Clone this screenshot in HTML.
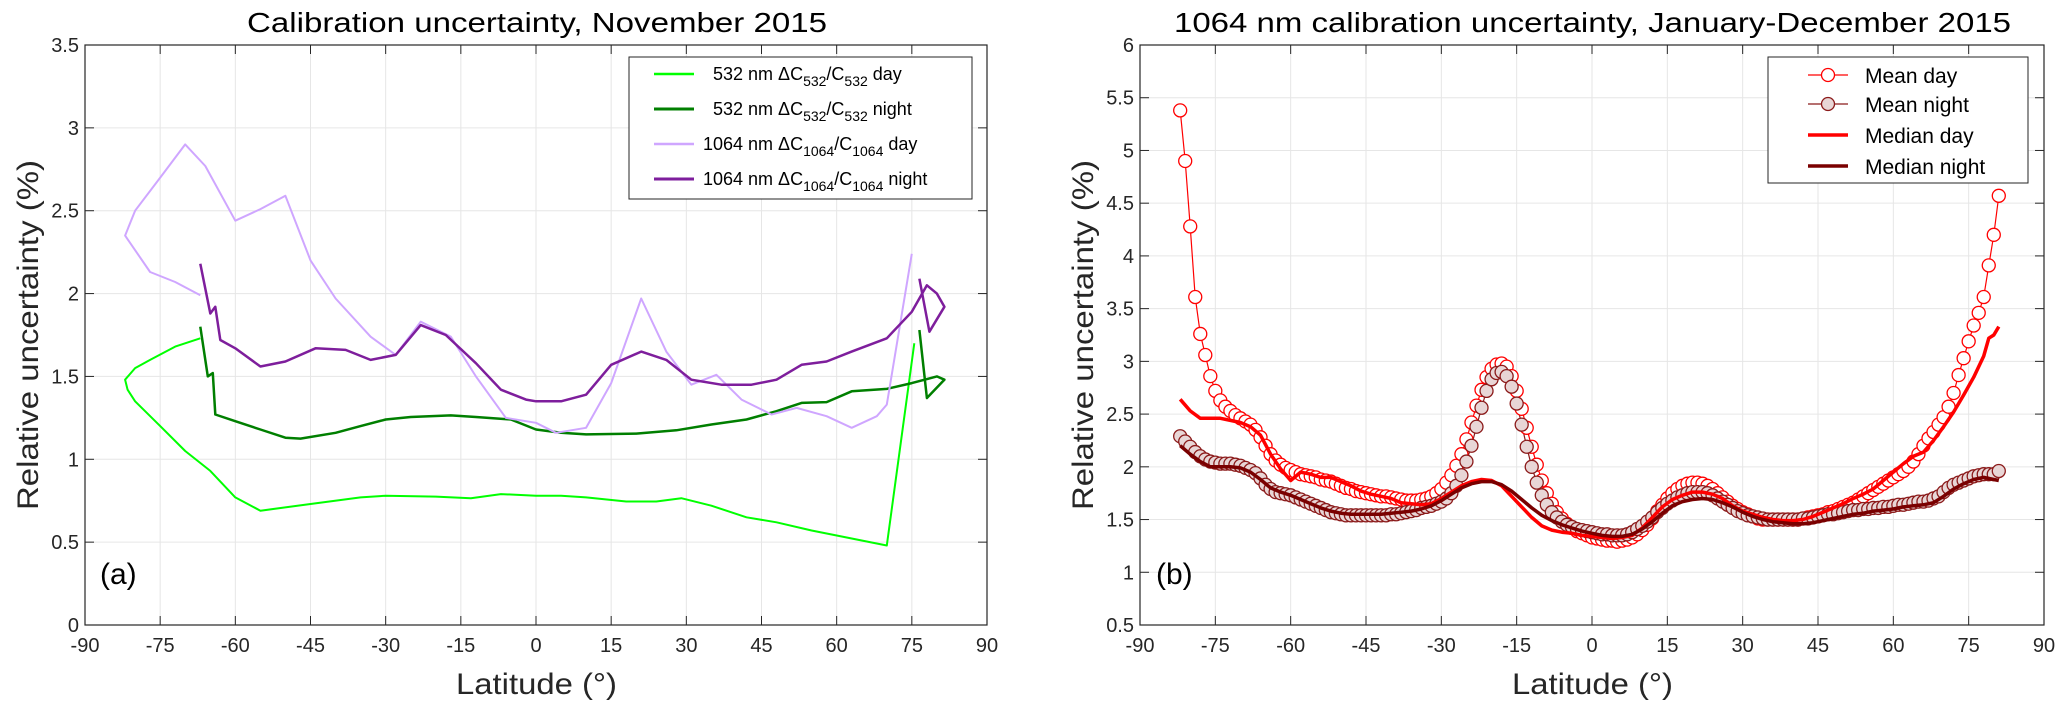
<!DOCTYPE html>
<html><head><meta charset="utf-8">
<style>
html,body{margin:0;padding:0;background:#fff;}
svg{display:block;font-family:"Liberation Sans",sans-serif;}
</style></head>
<body>
<svg id="chart" width="2067" height="712" viewBox="0 0 2067 712" xmlns="http://www.w3.org/2000/svg"></svg>
<script>
// ---------- Panel (a) data ----------
const aXTicks = [-90,-75,-60,-45,-30,-15,0,15,30,45,60,75,90];
const aYTicks = [0,0.5,1,1.5,2,2.5,3,3.5];
const g532DayLat = [-67,-72,-77,-80,-82,-81.5,-80,-75,-70,-65,-60,-55,-45,-35,-30,-20,-13,-7,0,5,10,18,24,29,35,42,48,55,60,65,70,75.5];
const g532DayVal = [1.73,1.68,1.6,1.55,1.48,1.42,1.35,1.2,1.05,0.93,0.77,0.69,0.73,0.77,0.78,0.775,0.765,0.79,0.78,0.78,0.77,0.745,0.745,0.765,0.72,0.65,0.62,0.57,0.54,0.51,0.48,1.7];
const g532NightLat = [-67,-65.5,-64.5,-64,-60,-55,-50,-47,-40,-35,-30,-25,-17,-12,-5,0,5,10,20,28,35,42,48,53,58,63,70,75,80,81.5,78,76.5];
const g532NightVal = [1.8,1.5,1.52,1.27,1.23,1.18,1.13,1.125,1.16,1.2,1.24,1.255,1.265,1.255,1.24,1.18,1.16,1.15,1.155,1.175,1.21,1.24,1.29,1.34,1.345,1.41,1.425,1.46,1.5,1.48,1.37,1.78];
const p1064DayLat = [-67,-72,-77,-82,-80,-75,-70,-66,-60,-55,-50,-45,-40,-33,-28,-23,-17,-12,-6,0,4,10,15,21,26,31,36,41,47,52,58,63,68,70,75];
const p1064DayVal = [1.99,2.07,2.13,2.35,2.5,2.7,2.9,2.77,2.44,2.51,2.59,2.2,1.97,1.74,1.63,1.83,1.74,1.5,1.25,1.22,1.16,1.19,1.46,1.97,1.65,1.45,1.51,1.36,1.27,1.31,1.26,1.19,1.26,1.33,2.24];
const p1064NightLat = [-67,-65,-64,-63,-60,-55,-50,-44,-38,-33,-28,-23,-18,-12,-7,-2,0,5,10,15,21,26,31,37,43,48,53,58,63,70,75,78,80,81.5,78.5,76.5];
const p1064NightVal = [2.18,1.88,1.92,1.72,1.67,1.56,1.59,1.67,1.66,1.6,1.63,1.81,1.75,1.58,1.42,1.36,1.35,1.35,1.39,1.57,1.65,1.6,1.48,1.45,1.45,1.48,1.57,1.59,1.65,1.73,1.89,2.05,2.0,1.92,1.77,2.09];

// ---------- Panel (b) data ----------
const bXTicks = [-90,-75,-60,-45,-30,-15,0,15,30,45,60,75,90];
const bYTicks = [0.5,1,1.5,2,2.5,3,3.5,4,4.5,5,5.5,6];
const meanLatStart = -82;
const meanDay = [5.38,4.9,4.28,3.61,3.26,3.06,2.86,2.72,2.63,2.57,2.53,2.49,2.46,2.43,2.4,2.35,2.28,2.2,2.12,2.06,2.02,1.99,1.97,1.95,1.93,1.92,1.91,1.9,1.88,1.87,1.86,1.84,1.82,1.8,1.79,1.77,1.76,1.75,1.74,1.73,1.72,1.72,1.71,1.7,1.69,1.68,1.68,1.68,
1.69,1.7,1.72,1.75,1.79,1.85,1.92,2.01,2.12,2.26,2.42,2.58,2.73,2.85,2.93,2.97,2.98,2.95,2.86,2.72,2.55,2.37,2.19,2.02,1.87,1.75,1.65,1.57,1.51,1.46,1.42,1.39,1.37,1.35,1.33,
1.32,1.31,1.3,1.3,1.29,1.3,1.31,1.33,1.36,1.4,1.45,1.51,1.58,1.64,1.7,1.75,1.79,1.82,1.84,1.85,1.85,1.84,1.82,1.79,1.75,1.71,1.67,1.63,1.6,1.57,1.55,1.53,1.51,1.5,
1.5,1.5,1.5,1.5,1.5,1.5,1.5,1.51,1.52,1.53,1.54,1.55,1.57,1.58,1.6,1.62,1.64,1.66,1.69,1.72,1.75,1.78,1.81,1.84,1.87,1.9,1.93,1.96,2.0,2.05,2.12,2.2,2.27,2.33,2.4,2.47,2.57,2.7,2.87,3.03,3.19,3.34,3.46,3.61,3.91,4.2,4.57];
const meanNight = [2.29,2.24,2.19,2.14,2.1,2.07,2.05,2.04,2.03,2.03,2.03,2.02,2.01,1.99,1.97,1.94,1.89,1.83,1.79,1.76,1.75,1.74,1.73,1.71,1.69,1.67,1.65,1.63,1.61,1.59,1.57,1.56,1.55,1.54,1.54,1.54,1.54,1.54,1.54,1.54,1.54,1.54,1.55,1.55,1.56,1.57,1.58,1.59,
1.61,1.62,1.63,1.65,1.67,1.7,1.75,1.82,1.92,2.05,2.2,2.38,2.56,2.72,2.83,2.89,2.9,2.86,2.76,2.6,2.4,2.19,2.0,1.85,1.73,1.64,1.57,1.52,1.48,1.45,1.43,1.41,1.4,1.39,1.38,
1.37,1.36,1.36,1.35,1.35,1.35,1.36,1.38,1.41,1.44,1.48,1.52,1.57,1.61,1.65,1.68,1.71,1.73,1.75,1.76,1.76,1.76,1.75,1.73,1.7,1.67,1.64,1.61,1.58,1.56,1.54,1.53,1.52,1.51,
1.5,1.5,1.5,1.5,1.5,1.5,1.5,1.51,1.51,1.52,1.53,1.54,1.55,1.55,1.56,1.57,1.58,1.59,1.59,1.6,1.6,1.61,1.61,1.62,1.62,1.63,1.64,1.64,1.65,1.66,1.67,1.67,1.68,1.7,1.72,1.76,1.8,1.83,1.85,1.87,1.89,1.91,1.92,1.93,1.93,1.93,1.96];
const medDayLat = [-82,-80,-78,-76,-74,-72,-70,-68,-66,-64,-62,-60,-58,-56,-54,-52,-50,-48,-46,-44,-42,-40,-38,-36,-34,-32,-30,-28,-26,-24,-22,-20,-18,-16,-14,-12,-10,-8,-6,-4,-2,0,2,4,6,8,10,12,14,16,18,20,22,24,26,28,30,32,34,36,38,40,42,44,46,48,50,52,54,56,58,60,62,64,66,68,70,72,74,76,78,79,80,81];
const medDay = [2.64,2.53,2.46,2.46,2.46,2.44,2.42,2.38,2.3,2.12,1.98,1.87,1.95,1.93,1.9,1.9,1.86,1.82,1.77,1.74,1.72,1.7,1.66,1.65,1.64,1.65,1.7,1.76,1.82,1.86,1.88,1.87,1.82,1.72,1.62,1.52,1.44,1.4,1.38,1.37,1.35,1.34,1.33,1.32,1.33,1.35,1.42,1.52,1.62,1.69,1.73,1.76,1.76,1.74,1.7,1.63,1.58,1.55,1.52,1.5,1.49,1.49,1.5,1.53,1.57,1.61,1.65,1.7,1.74,1.79,1.87,1.95,2.03,2.1,2.14,2.25,2.38,2.52,2.68,2.85,3.05,3.22,3.25,3.33];
const medNightLat = [-82,-80,-78,-76,-74,-72,-70,-68,-66,-64,-62,-60,-58,-56,-54,-52,-50,-48,-46,-44,-42,-40,-38,-36,-34,-32,-30,-28,-26,-24,-22,-20,-18,-16,-14,-12,-10,-8,-6,-4,-2,0,2,4,6,8,10,12,14,16,18,20,22,24,26,28,30,32,34,36,38,40,42,44,46,48,50,52,54,56,58,60,62,64,66,68,70,72,74,76,78,80,81];
const medNight = [2.2,2.12,2.05,2.0,2.0,2.0,1.99,1.95,1.88,1.8,1.76,1.73,1.69,1.65,1.61,1.58,1.56,1.55,1.55,1.55,1.55,1.56,1.57,1.58,1.6,1.63,1.68,1.74,1.8,1.84,1.86,1.86,1.83,1.77,1.69,1.61,1.54,1.49,1.45,1.42,1.39,1.37,1.35,1.34,1.34,1.36,1.41,1.48,1.56,1.63,1.67,1.69,1.7,1.69,1.66,1.62,1.57,1.53,1.5,1.48,1.47,1.46,1.46,1.47,1.49,1.51,1.53,1.55,1.56,1.58,1.59,1.6,1.62,1.63,1.64,1.66,1.72,1.79,1.84,1.88,1.9,1.88,1.87];

const NS = "http://www.w3.org/2000/svg";
const svg = document.getElementById('chart');
function mk(tag, attrs, parent){
  const e = document.createElementNS(NS, tag);
  for (const k in attrs) e.setAttribute(k, attrs[k]);
  (parent||svg).appendChild(e);
  return e;
}
function makeScale(d0,d1,r0,r1){return v => r0 + (v-d0)/(d1-d0)*(r1-r0);}

function drawAxes(P, name){
  const g = mk('g', {});
  
  
  P.xt.forEach(t=>{
    const x = P.x(t);
    mk('line',{x1:x,x2:x,y1:P.top,y2:P.bot,stroke:'#e6e6e6','stroke-width':1},g);
  });
  P.yt.forEach(t=>{
    const y = P.y(t);
    mk('line',{x1:P.left,x2:P.right,y1:y,y2:y,stroke:'#e6e6e6','stroke-width':1},g);
  });
  P.xt.forEach(t=>{
    const x = P.x(t);
    mk('line',{x1:x,x2:x,y1:P.bot,y2:P.bot-9,stroke:'#262626','stroke-width':1},g);
    mk('line',{x1:x,x2:x,y1:P.top,y2:P.top+9,stroke:'#262626','stroke-width':1},g);
    const tx = mk('text',{x:x,y:P.bot+27,'text-anchor':'middle','font-size':20,fill:'#262626'},g);
    tx.textContent = t;
    
    
  });
  P.yt.forEach(t=>{
    const y = P.y(t);
    mk('line',{x1:P.left,x2:P.left+9,y1:y,y2:y,stroke:'#262626','stroke-width':1},g);
    mk('line',{x1:P.right,x2:P.right-9,y1:y,y2:y,stroke:'#262626','stroke-width':1},g);
    const tx = mk('text',{x:P.left-6,y:y+7,'text-anchor':'end','font-size':20,fill:'#262626'},g);
    tx.textContent = t;
    
    
  });
}
function drawBox(P){
  mk('rect',{x:P.left,y:P.top,width:P.right-P.left,height:P.bot-P.top,fill:'none',stroke:'#262626','stroke-width':1.2});
}
function pathFrom(P, lats, vals){
  return lats.map((la,i)=>(i?'L':'M')+P.x(la).toFixed(1)+' '+P.y(vals[i]).toFixed(1)).join(' ');
}

// ---------- Panel (a) ----------
const A = {left:85,right:987,top:45,bot:625,xt:aXTicks,yt:aYTicks};
A.x = makeScale(-90,90,A.left,A.right);
A.y = makeScale(0,3.5,A.bot,A.top);
drawAxes(A,'panel-a');
const aSeries = [
  [g532DayLat,g532DayVal,'#00ff00',2,'line-532-day'],
  [g532NightLat,g532NightVal,'#007f00',2.5,'line-532-night'],
  [p1064DayLat,p1064DayVal,'#cfa6ff',2,'line-1064-day'],
  [p1064NightLat,p1064NightVal,'#7e1e9c',2.5,'line-1064-night']
];
aSeries.forEach(s=>{
  const p = mk('path',{d:pathFrom(A,s[0],s[1]),fill:'none',stroke:s[2],'stroke-width':s[3],'stroke-linejoin':'round'});
  
  
});
drawBox(A);

// ---------- Panel (b) ----------
const B = {left:1140,right:2044,top:45,bot:625,xt:bXTicks,yt:bYTicks};
B.x = makeScale(-90,90,B.left,B.right);
B.y = makeScale(0.5,6,B.bot,B.top);
drawAxes(B,'panel-b');
const meanLats = meanDay.map((_,i)=>meanLatStart+i);
const mdLine = mk('path',{d:pathFrom(B,meanLats,meanDay),fill:'none',stroke:'#ff0000','stroke-width':1.2});


const mnLine = mk('path',{d:pathFrom(B,meanLats,meanNight),fill:'none',stroke:'#8b1a1a','stroke-width':1.2});


meanDay.forEach((v,i)=>{
  const c = mk('circle',{cx:B.x(meanLats[i]),cy:B.y(v),r:6.5,fill:'#ffffff',stroke:'#ff0000','stroke-width':1.3});
  
  
});
meanNight.forEach((v,i)=>{
  const c = mk('circle',{cx:B.x(meanLats[i]),cy:B.y(v),r:6.5,fill:'#e8d6d6',stroke:'#8b1a1a','stroke-width':1.3});
  
  
});
const medD = mk('path',{d:pathFrom(B,medDayLat,medDay),fill:'none',stroke:'#ff0000','stroke-width':3.5,'stroke-linejoin':'round'});


const medN = mk('path',{d:pathFrom(B,medNightLat,medNight),fill:'none',stroke:'#7a0000','stroke-width':3.5,'stroke-linejoin':'round'});


drawBox(B);
</script>

<svg width="2067" height="712" viewBox="0 0 2067 712" xmlns="http://www.w3.org/2000/svg" style="position:absolute;left:0;top:0;font-family:'Liberation Sans',sans-serif;">
  <text x="247" y="32" textLength="580" lengthAdjust="spacingAndGlyphs" font-size="28" fill="#000">Calibration uncertainty, November 2015</text>
  <text x="1174" y="32" textLength="837" lengthAdjust="spacingAndGlyphs" font-size="28" fill="#000">1064 nm calibration uncertainty, January-December 2015</text>
  <text x="456" y="694" textLength="161" lengthAdjust="spacingAndGlyphs" font-size="30" fill="#262626">Latitude (°)</text>
  <text x="1512" y="694" textLength="161" lengthAdjust="spacingAndGlyphs" font-size="30" fill="#262626">Latitude (°)</text>
  <text transform="translate(38,335) rotate(-90)" text-anchor="middle" textLength="350" lengthAdjust="spacingAndGlyphs" font-size="30" fill="#262626">Relative uncertainty (%)</text>
  <text transform="translate(1093,335) rotate(-90)" text-anchor="middle" textLength="350" lengthAdjust="spacingAndGlyphs" font-size="30" fill="#262626">Relative uncertainty (%)</text>
  <text x="100" y="584" font-size="30" fill="#000">(a)</text>
  <text x="1156" y="584" font-size="30" fill="#000">(b)</text>

  <g>
    <rect x="629" y="57" width="343" height="142" fill="#fff" stroke="#262626" stroke-width="1"/>
    <line x1="654" x2="694" y1="74" y2="74" stroke="#00ff00" stroke-width="2.5"/>
    <text x="713" y="80" font-size="18" fill="#000">532 nm ΔC<tspan font-size="14" dy="6">532</tspan><tspan dy="-6">/C</tspan><tspan font-size="14" dy="6">532</tspan><tspan dy="-6"> day</tspan></text>
    <line x1="654" x2="694" y1="109" y2="109" stroke="#007f00" stroke-width="3"/>
    <text x="713" y="115" font-size="18" fill="#000">532 nm ΔC<tspan font-size="14" dy="6">532</tspan><tspan dy="-6">/C</tspan><tspan font-size="14" dy="6">532</tspan><tspan dy="-6"> night</tspan></text>
    <line x1="654" x2="694" y1="144" y2="144" stroke="#cfa6ff" stroke-width="2.5"/>
    <text x="703" y="150" font-size="18" fill="#000">1064 nm ΔC<tspan font-size="14" dy="6">1064</tspan><tspan dy="-6">/C</tspan><tspan font-size="14" dy="6">1064</tspan><tspan dy="-6"> day</tspan></text>
    <line x1="654" x2="694" y1="179" y2="179" stroke="#7e1e9c" stroke-width="3"/>
    <text x="703" y="185" font-size="18" fill="#000">1064 nm ΔC<tspan font-size="14" dy="6">1064</tspan><tspan dy="-6">/C</tspan><tspan font-size="14" dy="6">1064</tspan><tspan dy="-6"> night</tspan></text>
  </g>

  <g>
    <rect x="1768" y="57" width="260" height="126" fill="#fff" stroke="#262626" stroke-width="1"/>
    <line x1="1808" x2="1848" y1="75" y2="75" stroke="#ff0000" stroke-width="1.2"/>
    <circle cx="1828" cy="75" r="6.5" fill="#fff" stroke="#ff0000" stroke-width="1.3"/>
    <text x="1865" y="83" font-size="21" fill="#000">Mean day</text>
    <line x1="1808" x2="1848" y1="104" y2="104" stroke="#8b1a1a" stroke-width="1.2"/>
    <circle cx="1828" cy="104" r="6.5" fill="#e8d6d6" stroke="#8b1a1a" stroke-width="1.3"/>
    <text x="1865" y="112" font-size="21" fill="#000">Mean night</text>
    <line x1="1808" x2="1848" y1="135" y2="135" stroke="#ff0000" stroke-width="3.5"/>
    <text x="1865" y="143" font-size="21" fill="#000">Median day</text>
    <line x1="1808" x2="1848" y1="166" y2="166" stroke="#7a0000" stroke-width="3.5"/>
    <text x="1865" y="174" font-size="21" fill="#000">Median night</text>
  </g>
</svg>
</body></html>
